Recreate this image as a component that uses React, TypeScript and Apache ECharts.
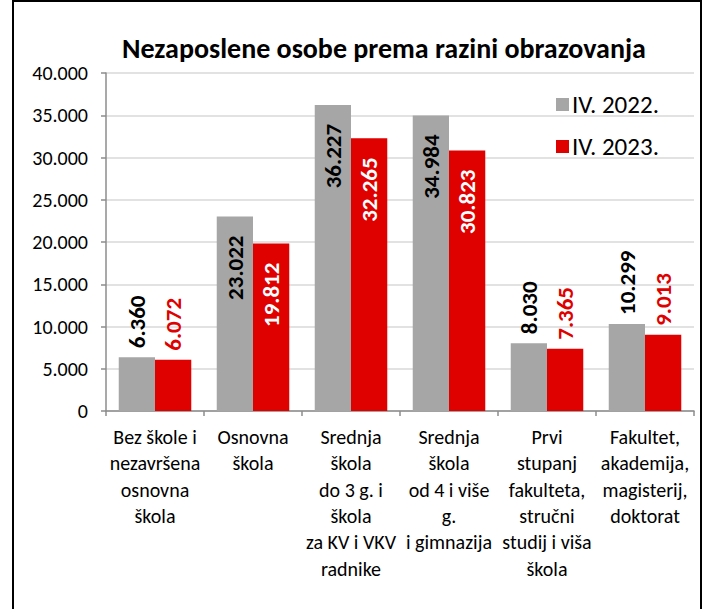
import React, { useEffect, useRef } from "react";
import * as echarts from "echarts";

const categories = [
  "Bez škole i\nnezavršena\nosnovna\nškola",
  "Osnovna\nškola",
  "Srednja\nškola\ndo 3 g. i\nškola\nza KV i VKV\nradnike",
  "Srednja\nškola\nod 4 i više\ng.\ni gimnazija",
  "Prvi\nstupanj\nfakulteta,\nstručni\nstudij i viša\nškola",
  "Fakultet,\nakademija,\nmagisterij,\ndoktorat",
];
const seriesNames = ["IV. 2022.", "IV. 2023."];
const values2022 = [6360, 23022, 36227, 34984, 8030, 10299];
const values2023 = [6072, 19812, 32265, 30823, 7365, 9013];
const yMin = 0;
const yMax = 40000;
const yInterval = 5000;

const FONT = "Carlito, Calibri, Lato, sans-serif";
const GRAY = "#a6a6a6";
const RED = "#df0000";

const fmt = (n: number) =>
  String(Math.round(n)).replace(/\B(?=(\d{3})+(?!\d))/g, ".");

function labelFor(v: number, insideColor: string, outsideColor: string) {
  const inside = v > 15000;
  return {
    show: true,
    rotate: 90,
    position: inside ? "insideTop" : "top",
    align: inside ? "right" : "left",
    verticalAlign: "middle",
    distance: inside ? 19 : 9,
    color: inside ? insideColor : outsideColor,
    fontFamily: FONT,
    fontWeight: "bold",
    fontSize: 23,
    formatter: (p: any) => fmt(p.value),
  };
}

export default function App() {
  const ref = useRef<HTMLDivElement>(null);
  useEffect(() => {
    if (!ref.current) return;
    const chart = echarts.init(ref.current, null, { renderer: "svg" });
    chart.setOption({
      animation: false,
      backgroundColor: "#fff",
      textStyle: { fontFamily: FONT },
      title: {
        text: "Nezaposlene osobe prema razini obrazovanja",
        left: 379,
        top: 29,
        textAlign: "center",
        textStyle: {
          fontFamily: FONT,
          fontWeight: "bold",
          fontSize: 28,
          color: "#000",
        },
      },
      legend: {
        orient: "vertical",
        left: 551,
        top: 87,
        itemWidth: 13,
        itemHeight: 13,
        itemGap: 17,
        icon: "rect",
        textStyle: {
          fontFamily: FONT,
          fontSize: 25,
          lineHeight: 25,
          color: "#000",
          padding: [0, 0, 0, -2],
        },
        data: seriesNames,
      },
      grid: { left: 106, right: 13, top: 73, bottom: 198, containLabel: false },
      xAxis: {
        type: "category",
        data: categories,
        axisLine: { lineStyle: { color: "#8c8c8c", width: 1.5 } },
        axisTick: { show: true, length: 5, lineStyle: { color: "#8c8c8c", width: 1.5 } },
        axisLabel: {
          interval: 0,
          margin: 13,
          color: "#000",
          fontFamily: FONT,
          fontSize: 20,
          lineHeight: 26.3,
          align: "center",
        },
      },
      yAxis: {
        type: "value",
        min: yMin,
        max: yMax,
        interval: yInterval,
        axisLine: { show: true, lineStyle: { color: "#8c8c8c", width: 1.5 } },
        axisTick: { show: true, length: 5, lineStyle: { color: "#8c8c8c", width: 1.5 } },
        splitLine: { show: true, lineStyle: { color: "#d9d9d9", width: 1.5 } },
        axisLabel: {
          margin: 18,
          color: "#000",
          fontFamily: FONT,
          fontSize: 20,
          formatter: (v: number) => fmt(v),
        },
      },
      series: [
        {
          name: seriesNames[0],
          type: "bar",
          barGap: "0%",
          barCategoryGap: "26%",
          itemStyle: { color: GRAY },
          data: values2022.map((v) => ({ value: v, label: labelFor(v, "#000", "#000") })),
        },
        {
          name: seriesNames[1],
          type: "bar",
          itemStyle: { color: RED },
          data: values2023.map((v) => ({ value: v, label: labelFor(v, "#fff", RED) })),
        },
      ],
      graphic: [
        {
          type: "rect",
          shape: { x: 13, y: 1, width: 688, height: 700 },
          style: { fill: "none", stroke: "#000", lineWidth: 2 },
          z: 100,
        },
      ],
    });
    return () => chart.dispose();
  }, []);
  return (
    <div
      ref={ref}
      style={{ position: "absolute", left: 0, top: 0, width: 707, height: 609 }}
    />
  );
}
